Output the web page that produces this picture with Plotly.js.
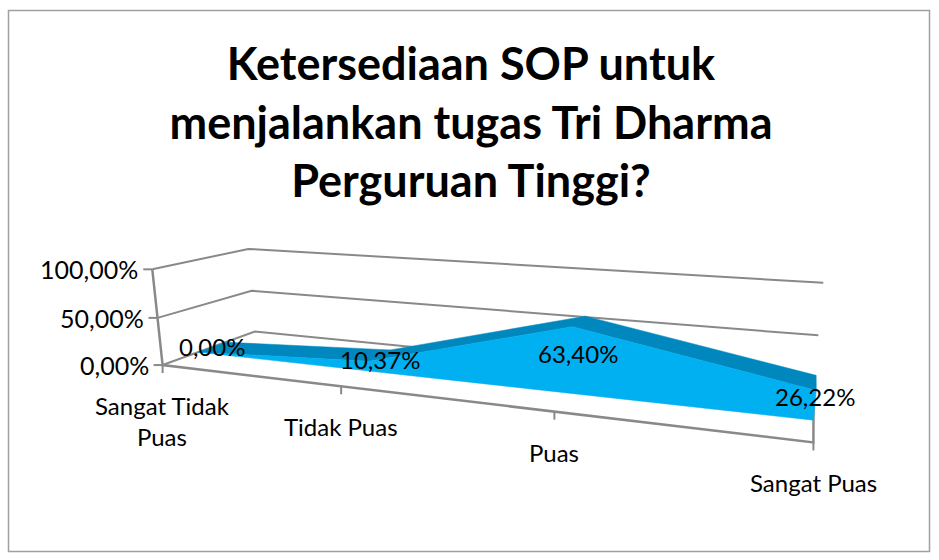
<!DOCTYPE html>
<html><head><meta charset="utf-8">
<script src="https://cdn.plot.ly/plotly-3.0.1.min.js"></script>
<style>
html,body{margin:0;padding:0;width:939px;height:560px;overflow:hidden;background:#fff;}
#chart{position:absolute;left:0;top:0;width:939px;height:560px;}
</style></head>
<body><div id="chart"></div>
<script>
// ---------------- data ----------------
const categories = ["Sangat Tidak Puas", "Tidak Puas", "Puas", "Sangat Puas"];
const categoryLabels = ["Sangat Tidak<br>Puas", "Tidak Puas", "Puas", "Sangat Puas"];
const values = [0.0000, 0.1037, 0.6340, 0.2622];          // shares (0..1)
const valueLabels = ["0,00%", "10,37%", "63,40%", "26,22%"];
const zTicks = [0, 0.5, 1];
const titleText = "Ketersediaan SOP untuk<br>menjalankan tugas Tri Dharma<br>Perguruan Tinggi?";

// ---------------- 3D view (perspective camera fitted to the wall corners) ----------------
// world: X = category index, Y = depth (0 front .. 1 back wall), Z = value axis (0..1)
const viewAnchors = [
  [0, 0, 0,   162.7, 366.0], [0, 0, 0.5, 156.7, 318.3], [0, 0, 1,   152.7, 270.0],
  [0, 1, 0,   255.0, 331.7], [0, 1, 0.5, 251.7, 290.0], [0, 1, 1,   248.3, 249.0],
  [3, 1, 1,   823.3, 282.3], [3, 1, 0.5, 818.3, 335.0], [3, 0, 0,   813.3, 443.0],
  [1, 0, 0,   341.0, 384.5], [2, 0, 0,   555.0, 410.7], [3, 1, 0,   813.3, 387.7]
];
function fitCamera(pts) {
  const N = 11, M = Array.from({length: N}, () => new Array(N).fill(0)), r = new Array(N).fill(0);
  const add = (row, val) => { for (let a = 0; a < N; a++) { r[a] += row[a] * val; for (let b = 0; b < N; b++) M[a][b] += row[a] * row[b]; } };
  pts.forEach(([X, Y, Z, u, v]) => {
    add([X, Y, Z, 1, 0, 0, 0, 0, -u * X, -u * Y, -u * Z], u);
    add([0, 0, 0, 0, X, Y, Z, 1, -v * X, -v * Y, -v * Z], v);
  });
  for (let c = 0; c < N; c++) {
    let p = c;
    for (let q = c + 1; q < N; q++) if (Math.abs(M[q][c]) > Math.abs(M[p][c])) p = q;
    [M[c], M[p]] = [M[p], M[c]]; [r[c], r[p]] = [r[p], r[c]];
    for (let q = c + 1; q < N; q++) {
      const f = M[q][c] / M[c][c];
      for (let k = c; k < N; k++) M[q][k] -= f * M[c][k];
      r[q] -= f * r[c];
    }
  }
  const p = new Array(N).fill(0);
  for (let c = N - 1; c >= 0; c--) { let s = r[c]; for (let k = c + 1; k < N; k++) s -= M[c][k] * p[k]; p[c] = s / M[c][c]; }
  return p;
}
const cam = fitCamera(viewAnchors);
function proj(X, Y, Z) {
  const w = cam[8] * X + cam[9] * Y + cam[10] * Z + 1;
  return [(cam[0] * X + cam[1] * Y + cam[2] * Z + cam[3]) / w,
          (cam[4] * X + cam[5] * Y + cam[6] * Z + cam[7]) / w];
}
const X_MAX = categories.length - 1;
const Y0 = 0.35, Y1 = 0.65;     // depth slot of the series ribbon

function path(points3d) {        // list of [X,Y,Z] or null -> {x:[],y:[]}
  const x = [], y = [];
  points3d.forEach(p => {
    if (p === null) { x.push(null); y.push(null); return; }
    const q = proj(p[0], p[1], p[2]); x.push(q[0]); y.push(q[1]);
  });
  return {x, y};
}

const grey = '#898989';
const traces = [];

// gridlines on side wall + back wall
const grid = [];
zTicks.forEach(t => grid.push([0, 0, t], [0, 1, t], [X_MAX, 1, t], null));
traces.push(Object.assign({type: 'scatter', mode: 'lines', line: {color: grey, width: 2}, hoverinfo: 'skip'}, path(grid)));

// axis lines: value axis, category axis, floor right edge
const axes = [[0, 0, 1], [0, 0, 0], [X_MAX, 0, 0], [X_MAX, 1, 0]];
traces.push(Object.assign({type: 'scatter', mode: 'lines', line: {color: grey, width: 2.5}, hoverinfo: 'skip'}, path(axes)));

// tick marks (fixed length in pixels)
const tx = [], ty = [];
categories.forEach((c, i) => { const q = proj(i, 0, 0); tx.push(q[0], q[0], null); ty.push(q[1], q[1] + 8, null); });
zTicks.forEach(t => { const q = proj(0, 0, t); tx.push(q[0], q[0] - 9, null); ty.push(q[1], q[1], null); });
traces.push({type: 'scatter', mode: 'lines', x: tx, y: ty, line: {color: grey, width: 2}, hoverinfo: 'skip'});

// ribbon top faces (one quad per segment)
const topPts = [];
for (let i = 0; i < X_MAX; i++) {
  topPts.push([i, Y0, values[i]], [i + 1, Y0, values[i + 1]], [i + 1, Y1, values[i + 1]], [i, Y1, values[i]], [i, Y0, values[i]], null);
}
traces.push(Object.assign({type: 'scatter', mode: 'lines', fill: 'toself', fillcolor: '#0088BE',
  line: {color: '#0088BE', width: 0.5}, hoverinfo: 'skip'}, path(topPts)));

// ribbon front face
const frontPts = [];
values.forEach((v, i) => frontPts.push([i, Y0, v]));
for (let i = X_MAX; i >= 0; i--) frontPts.push([i, Y0, 0]);
frontPts.push([0, Y0, values[0]]);
traces.push(Object.assign({type: 'scatter', mode: 'lines', fill: 'toself', fillcolor: '#00B0F0',
  line: {color: '#00B0F0', width: 0.5}, hoverinfo: 'skip'}, path(frontPts)));

// ---------------- text ----------------
const font = {family: 'Lato, "Open Sans", sans-serif', size: 24, color: '#000'};
const annotations = [];
categories.forEach((c, i) => {
  const q = proj(i, 0, 0);
  annotations.push({x: q[0], y: q[1], xref: 'x', yref: 'y', text: categoryLabels[i], showarrow: false,
    xanchor: 'center', yanchor: 'top', yshift: -24, font: font});
});
values.forEach((v, i) => {
  const q = proj(i, (Y0 + Y1) / 2, v / 2);
  annotations.push({x: q[0], y: q[1], xref: 'x', yref: 'y', text: valueLabels[i], showarrow: false,
    xanchor: 'center', yanchor: 'middle', yshift: 1, font: font});
});
zTicks.forEach(t => {
  const q = proj(0, 0, t);
  annotations.push({x: q[0], y: q[1], xref: 'x', yref: 'y',
    text: (t * 100).toFixed(2).replace('.', ',') + '%', showarrow: false,
    xanchor: 'right', yanchor: 'middle', xshift: -12, font: {family: font.family, size: 25, color: '#000'}});
});

const layout = {
  width: 939, height: 560,
  margin: {l: 0, r: 0, t: 0, b: 0},
  paper_bgcolor: '#fff', plot_bgcolor: 'rgba(0,0,0,0)',
  showlegend: false, hovermode: false,
  title: {
    text: titleText,
    font: {family: 'Lato, "Open Sans", sans-serif', size: 45, color: '#000', weight: 'bold'},
    x: 471 / 939, xanchor: 'center', y: 1 - 80 / 560, yanchor: 'middle'
  },
  xaxis: {range: [0, 939], visible: false, fixedrange: true},
  yaxis: {range: [560, 0], visible: false, fixedrange: true},
  shapes: [{type: 'rect', xref: 'paper', yref: 'paper', x0: 8.5 / 939, x1: 929.5 / 939, y0: 1 - 551.5 / 560, y1: 1 - 10.5 / 560,
            line: {color: '#a0a0a0', width: 1.5}, fillcolor: 'rgba(0,0,0,0)', layer: 'below'}],
  annotations: annotations
};
Plotly.newPlot('chart', traces, layout, {displayModeBar: false, staticPlot: true});
</script>
</body></html>
